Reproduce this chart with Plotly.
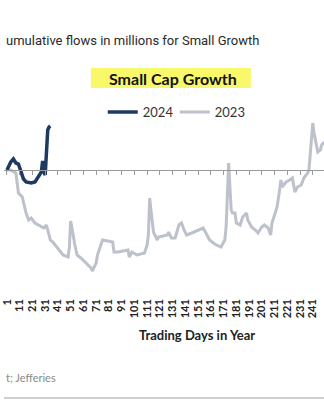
import plotly.graph_objects as go

# ---- data ----
days_2024 = [1, 2, 3, 4, 6, 7, 8, 10, 11, 12, 13, 14, 16, 20, 23, 24, 26, 27, 28, 29, 30, 31, 32, 33, 34, 35]
flows_2024 = [0, 60, 120, 160, 220, 160, 140, 120, 40, -60, -120, -180, -240, -260, -240, -200, -140,
              -100, -40, 180, -40, -100, 480, 800, 860, 880]

days_2023 = [1, 4, 8, 9, 10, 13, 14, 16, 18, 20, 23, 26, 30, 32, 34, 35, 37, 40, 43, 45, 49, 50, 51, 52,
             53, 54, 56, 59, 62, 65, 67, 68, 71, 72, 75, 76, 80, 84, 85, 88, 96, 97, 99, 103, 109, 111,
             112, 113, 114, 115, 116, 119, 120, 127, 128, 130, 133, 136, 138, 140, 142, 146, 151, 155,
             158, 160, 164, 169, 172, 173, 174, 175, 176, 177, 178, 180, 181, 184, 186, 189, 190, 193,
             196, 198, 201, 203, 206, 208, 209, 213, 215, 216, 217, 220, 223, 225, 227, 229, 232, 234,
             237, 238, 239, 240, 241, 242, 244, 245, 247, 248, 250]
flows_2023 = [0, 0, -60, -260, -460, -540, -660, -860, -1000, -960, -1060, -1100, -1160, -1100, -1300,
              -1400, -1440, -1540, -1640, -1700, -1740, -1540, -1020, -1140, -1300, -1460, -1700, -1760,
              -1840, -1900, -1960, -2020, -1860, -1700, -1440, -1400, -1420, -1440, -1640, -1640, -1600,
              -1740, -1640, -1700, -1660, -1500, -1300, -560, -800, -1040, -1240, -1400, -1340, -1300,
              -1240, -1360, -1360, -1100, -1060, -1200, -1300, -1260, -1200, -1160, -1300, -1400, -1480,
              -1540, -1400, -1140, -500, 140, -340, -800, -860, -860, -1060, -1100, -940, -860, -1000,
              -1140, -1200, -1260, -1140, -1100, -1160, -1300, -1060, -740, -400, -200, -340, -240, -200,
              -160, -440, -340, -300, -160, -60, 0, 300, 700, 940, 740, 460, 360, 400, 500, 560]

tick_days = list(range(1, 252, 10))
tick_labels = [str(d) for d in tick_days]

# ---- layout geometry ----
W, H = 324, 400
TOP, BOT = 100, 296            # plot area in pixels
Y_RANGE = [-2520, 1400]
X_RANGE = [-1.33, 249.84]


def py(pix):
    """pixel row -> paper y"""
    return (BOT - pix) / (BOT - TOP)


def px(pix):
    return pix / W


fig = go.Figure()
fig.add_trace(go.Scatter(x=days_2023, y=flows_2023, mode="lines", name="2023",
                         line=dict(color="#BCC1CB", width=3), legendrank=2))
fig.add_trace(go.Scatter(x=days_2024, y=flows_2024, mode="lines", name="2024",
                         line=dict(color="#1F3A60", width=3.5), legendrank=1))
# carrier trace for the zero-line axis
fig.add_trace(go.Scatter(x=[tick_days[0]], y=[0], xaxis="x2", mode="lines",
                         showlegend=False, hoverinfo="skip", line=dict(width=0)))

zero_pos = (0 - Y_RANGE[0]) / (Y_RANGE[1] - Y_RANGE[0])

fig.update_layout(
    width=W, height=H,
    margin=dict(l=0, r=0, t=TOP, b=H - BOT),
    paper_bgcolor="white", plot_bgcolor="white",
    showlegend=True,
    legend=dict(orientation="h", x=px(100), xanchor="left", y=py(112), yanchor="middle",
                font=dict(family="Lato", size=13, color="#333333"),
                bgcolor="rgba(0,0,0,0)", itemwidth=30,
                entrywidth=27, entrywidthmode="pixels"),
    xaxis=dict(range=X_RANGE, showgrid=False, zeroline=False, showline=False,
               tickvals=tick_days, ticktext=tick_labels, tickangle=-90, ticks="",
               ticklabeloverflow="allow",
               tickfont=dict(family="Lato", size=11, color="#222222", weight="bold")),
    xaxis2=dict(matches="x", overlaying="x", anchor="free", position=zero_pos, side="bottom",
                showgrid=False, zeroline=False, showline=True, linecolor="#9A9A9A", linewidth=1,
                tickvals=tick_days, ticks="outside", ticklen=4, tickcolor="#9A9A9A",
                showticklabels=False),
    yaxis=dict(range=Y_RANGE, visible=False),
)

# yellow highlighted chart title
fig.add_shape(type="rect", xref="paper", yref="paper",
              x0=px(88), x1=px(250), y0=py(88), y1=py(68),
              fillcolor="#F8F86A", line=dict(width=0), layer="below")

annotations = [
    dict(text="<b>Small Cap Growth</b>", x=px(171), y=py(78), xanchor="center", yanchor="middle",
         font=dict(family="Lato", size=16, color="#111111")),
    dict(text="umulative flows in millions for Small Growth", x=0, y=py(40), xanchor="left",
         yanchor="middle", font=dict(family="Roboto", size=13, color="#2A2A2A")),
    dict(text="<b>Trading Days in Year</b>", x=px(195), y=py(335), xanchor="center",
         yanchor="middle", font=dict(family="Lato", size=13, color="#222222")),
    dict(text="t; Jefferies", x=0, y=py(377), xanchor="left", yanchor="middle",
         font=dict(family="Lato", size=11, color="#8A8A8A")),
]
for a in annotations:
    fig.add_annotation(xref="paper", yref="paper", showarrow=False, **a)

fig.add_shape(type="line", xref="paper", yref="paper", x0=0, x1=1, y0=py(398), y1=py(398),
              line=dict(color="#CFCFCF", width=2))

fig.write_html("out.html")
